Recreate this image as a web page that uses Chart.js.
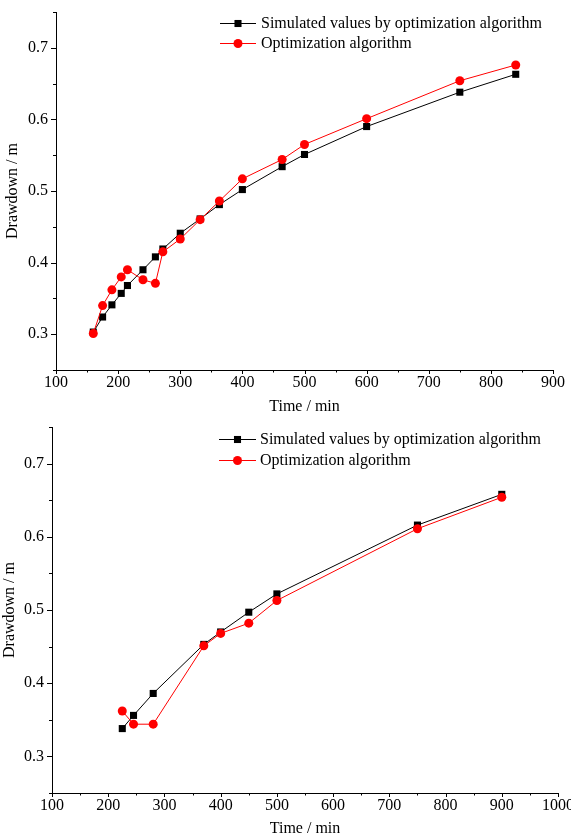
<!DOCTYPE html>
<html>
<head>
<meta charset="utf-8">
<script src="https://cdn.jsdelivr.net/npm/chart.js@4"></script>
<style>
  html, body { margin: 0; padding: 0; background: #fff; }
  #wrap { position: relative; width: 571px; height: 838px; }
  .box { position: absolute; left: 0; width: 571px; }
</style>
</head>
<body>
<div id="wrap">
  <div class="box" style="top:0;height:420px"><canvas id="chartTop" width="571" height="420"></canvas></div>
  <div class="box" style="top:420px;height:418px"><canvas id="chartBottom" width="571" height="418"></canvas></div>
</div>
<script>
const seriesNames = ["Simulated values by optimization algorithm", "Optimization algorithm"];
const xTitle = "Time / min";
const yTitle = "Drawdown / m";

// upper panel
const timeA = [160, 175, 190, 205, 215, 240, 260, 272, 300, 332, 363, 400, 464, 500, 600, 750, 840];
const simA = [0.303, 0.324, 0.341, 0.357, 0.368, 0.390, 0.408, 0.419, 0.441, 0.461, 0.481, 0.502, 0.534, 0.551, 0.590, 0.638, 0.663];
const optA = [0.301, 0.340, 0.362, 0.380, 0.390, 0.376, 0.371, 0.415, 0.433, 0.460, 0.486, 0.517, 0.544, 0.565, 0.601, 0.654, 0.676];

// lower panel
const timeB = [225, 245, 280, 370, 400, 450, 500, 750, 900];
const simB = [0.338, 0.356, 0.386, 0.453, 0.470, 0.497, 0.522, 0.616, 0.658];
const optB = [0.362, 0.344, 0.344, 0.451, 0.468, 0.482, 0.513, 0.611, 0.654];

const FONT = "'Liberation Serif', 'Times New Roman', serif";
const FS = 16;

function pts(xs, ys) {
  return xs.map((x, i) => ({ x: x, y: ys[i] }));
}

// outward tick marks, long for labelled ticks, short for the rest
const tickMarks = {
  id: "tickMarks",
  afterDraw(chart) {
    const ctx = chart.ctx;
    const xs = chart.scales.x, ys = chart.scales.y;
    ctx.save();
    ctx.strokeStyle = "#000";
    ctx.lineWidth = 1;
    xs.ticks.forEach((t) => {
      const px = Math.round(xs.getPixelForValue(t.value)) + 0.5;
      const len = t.label ? 4 : 2.5;
      ctx.beginPath();
      ctx.moveTo(px, xs.top);
      ctx.lineTo(px, xs.top + len);
      ctx.stroke();
    });
    ys.ticks.forEach((t) => {
      const py = Math.round(ys.getPixelForValue(t.value)) + 0.5;
      const len = t.label ? 5 : 3;
      ctx.beginPath();
      ctx.moveTo(ys.right, py);
      ctx.lineTo(ys.right - len, py);
      ctx.stroke();
    });
    ctx.restore();
  },
};

// legend drawn inside the plot, top right
const boxLegend = {
  id: "boxLegend",
  afterDraw(chart, args, opts) {
    const ctx = chart.ctx;
    ctx.save();
    chart.data.datasets.forEach((ds, i) => {
      const y = opts.y + i * opts.gap;
      ctx.strokeStyle = ds.borderColor;
      ctx.lineWidth = 1;
      ctx.beginPath();
      ctx.moveTo(opts.x, y + 0.5);
      ctx.lineTo(opts.x + opts.len, y + 0.5);
      ctx.stroke();
      const cx = opts.x + opts.len / 2;
      ctx.fillStyle = ds.pointBackgroundColor;
      ctx.beginPath();
      if (ds.pointStyle === "rect") {
        const s = ds.pointRadius * Math.SQRT1_2;
        ctx.rect(cx - s, y + 0.5 - s, 2 * s, 2 * s);
      } else {
        ctx.arc(cx, y + 0.5, ds.pointRadius, 0, Math.PI * 2);
      }
      ctx.fill();
      ctx.fillStyle = "#000";
      ctx.font = FS + "px " + FONT;
      ctx.textBaseline = "middle";
      ctx.textAlign = "left";
      ctx.fillText(ds.label, opts.textX, y + 1);
    });
    ctx.restore();
  },
};

function makeChart(id, xsArr, simArr, optArr, cfg) {
  const ctx = document.getElementById(id);
  return new Chart(ctx, {
    type: "line",
    data: {
      datasets: [
        {
          label: seriesNames[0],
          data: pts(xsArr, simArr),
          borderColor: "#000000",
          backgroundColor: "#000000",
          pointBackgroundColor: "#000000",
          pointBorderWidth: 0,
          pointStyle: "rect",
          pointRadius: 5,
          borderWidth: 1,
          order: 2,
        },
        {
          label: seriesNames[1],
          data: pts(xsArr, optArr),
          borderColor: "#ff0000",
          backgroundColor: "#ff0000",
          pointBackgroundColor: "#ff0000",
          pointBorderWidth: 0,
          pointStyle: "circle",
          pointRadius: 4.5,
          borderWidth: 1,
          order: 1,
        },
      ],
    },
    options: {
      responsive: false,
      animation: false,
      events: [],
      layout: { padding: { top: cfg.padTop, right: cfg.padRight, bottom: 0, left: 0 } },
      plugins: {
        legend: { display: false },
        tooltip: { enabled: false },
        boxLegend: cfg.legend,
      },
      scales: {
        x: {
          type: "linear",
          min: cfg.xMin,
          max: cfg.xMax,
          afterFit(s) {
            s.height = cfg.xAxisH;
            s.paddingLeft = 0;
            s.paddingRight = 0;
          },
          border: { display: true, color: "#000", width: 1 },
          grid: { display: false, drawTicks: false },
          ticks: {
            stepSize: 50,
            autoSkip: false,
            maxRotation: 0,
            padding: cfg.xTickPad,
            color: "#000",
            font: { family: FONT, size: FS },
            callback: (v) => (v % 100 === 0 ? String(v) : ""),
          },
          title: {
            display: true,
            text: xTitle,
            color: "#000",
            font: { family: FONT, size: FS },
            padding: { top: 0, bottom: cfg.xTitlePad },
          },
        },
        y: {
          min: 0.25,
          max: 0.75,
          afterFit(s) {
            s.width = cfg.yAxisW;
            s.paddingTop = 0;
            s.paddingBottom = 0;
          },
          border: { display: true, color: "#000", width: 1 },
          grid: { display: false, drawTicks: false },
          ticks: {
            stepSize: 0.05,
            autoSkip: false,
            padding: 8,
            color: "#000",
            font: { family: FONT, size: FS },
            callback: (v) => {
              const k = Math.round(v * 100);
              if (k % 10 !== 0) return "";
              return (k / 100).toFixed(1);
            },
          },
          title: {
            display: true,
            text: yTitle,
            color: "#000",
            font: { family: FONT, size: FS },
            padding: { top: cfg.yTitlePad, bottom: 0 },
          },
        },
      },
    },
    plugins: [tickMarks, boxLegend],
  });
}

makeChart("chartTop", timeA, simA, optA, {
  xMin: 100, xMax: 900,
  padTop: 12, padRight: 18,
  xAxisH: 50, yAxisW: 56,
  xTickPad: 3,
  xTitlePad: 4, yTitlePad: 3,
  legend: { x: 220, len: 36, textX: 261, y: 23, gap: 20 },
});

makeChart("chartBottom", timeB, simB, optB, {
  xMin: 100, xMax: 1000,
  padTop: 7, padRight: 13,
  xAxisH: 45, yAxisW: 52,
  xTickPad: 3,
  xTitlePad: 0, yTitlePad: 0,
  legend: { x: 219, len: 37, textX: 260, y: 19, gap: 21 },
});
</script>
</body>
</html>
